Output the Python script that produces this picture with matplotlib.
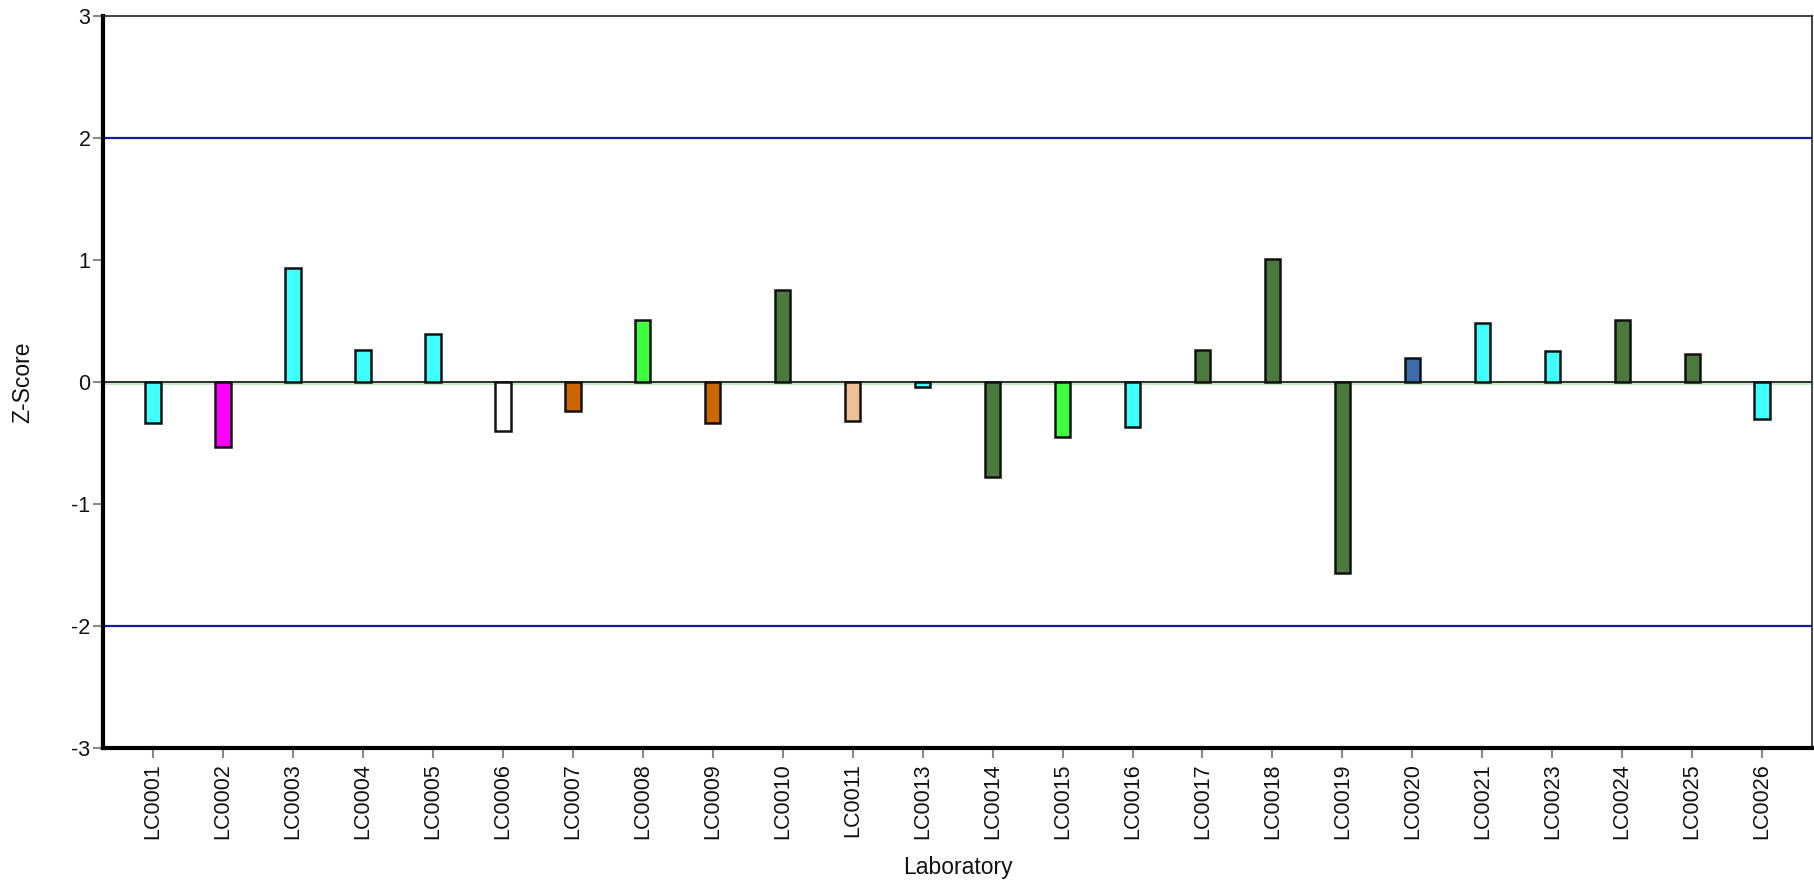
import numpy as np
import matplotlib
matplotlib.use("Agg")
import matplotlib.pyplot as plt
import matplotlib.transforms as mtransforms

plt.rcParams['font.family'] = ['Liberation Sans', 'DejaVu Sans']

labs = ["LC0001", "LC0002", "LC0003", "LC0004", "LC0005", "LC0006", "LC0007",
        "LC0008", "LC0009", "LC0010", "LC0011", "LC0013", "LC0014", "LC0015",
        "LC0016", "LC0017", "LC0018", "LC0019", "LC0020", "LC0021", "LC0023",
        "LC0024", "LC0025", "LC0026"]
zscores = [-0.34, -0.53, 0.93, 0.26, 0.39, -0.40, -0.24, 0.51, -0.34, 0.75,
           -0.32, -0.04, -0.78, -0.45, -0.37, 0.26, 1.01, -1.57, 0.20, 0.48,
           0.25, 0.51, 0.23, -0.30]

cyan = '#40FFFF'
dkgreen = '#4A7A3C'
colors = [cyan, '#FF00FF', cyan, cyan, cyan, '#FFFFFF', '#CC6600', '#40FF40',
          '#CC6600', dkgreen, '#EEC096', cyan, dkgreen, '#40FF40', cyan,
          dkgreen, dkgreen, dkgreen, '#3B6EA8', cyan, cyan, dkgreen, dkgreen, cyan]

yticks = [-3, -2, -1, 0, 1, 2, 3]
limits = [-2, 2]

fig = plt.figure(figsize=(18.14, 8.82), dpi=100)
ax = fig.add_axes([0.0568, 0.152, 0.9422, 0.830])

x = np.arange(len(labs))

for lim in limits:
    ax.axhline(lim, color='#1A1AA0', lw=1.6, zorder=1)

# light green line just under the zero line
shift = mtransforms.offset_copy(ax.get_yaxis_transform(), fig=fig, y=-2, units='dots')
ax.plot([0, 1], [0, 0], color='#B8EBB8', lw=1.2, transform=shift, zorder=1)
ax.axhline(0, color='#202020', lw=1.3, zorder=2)

ax.bar(x, zscores, width=0.22, color=colors, edgecolor='#111111', linewidth=1.8, zorder=3)

ax.set_xlim(-0.715, len(labs) - 1 + 0.715)
ax.set_ylim(-3, 3)
ax.set_yticks(yticks)
ax.set_yticklabels([str(t) for t in yticks])
ax.set_xticks(x)
ax.set_xticklabels(labs, rotation=90)

ax.tick_params(axis='both', direction='out', length=7, width=1.5, color='#888888',
               labelsize=15.5, labelcolor='#111111')
ax.tick_params(axis='y', pad=2)
ax.tick_params(axis='x', pad=4)

for s in ['left', 'bottom']:
    ax.spines[s].set_linewidth(3)
    ax.spines[s].set_color('black')
for s in ['top', 'right']:
    ax.spines[s].set_linewidth(1.2)
    ax.spines[s].set_color('#222222')

ax.set_ylabel('Z-Score', fontsize=16.5, color='#111111')
ax.yaxis.set_label_coords(-0.040, 0.5)
ax.set_xlabel('Laboratory', fontsize=16.5, color='#111111')
ax.xaxis.set_label_coords(0.5, -0.148)

fig.savefig('out.png', dpi=100)
